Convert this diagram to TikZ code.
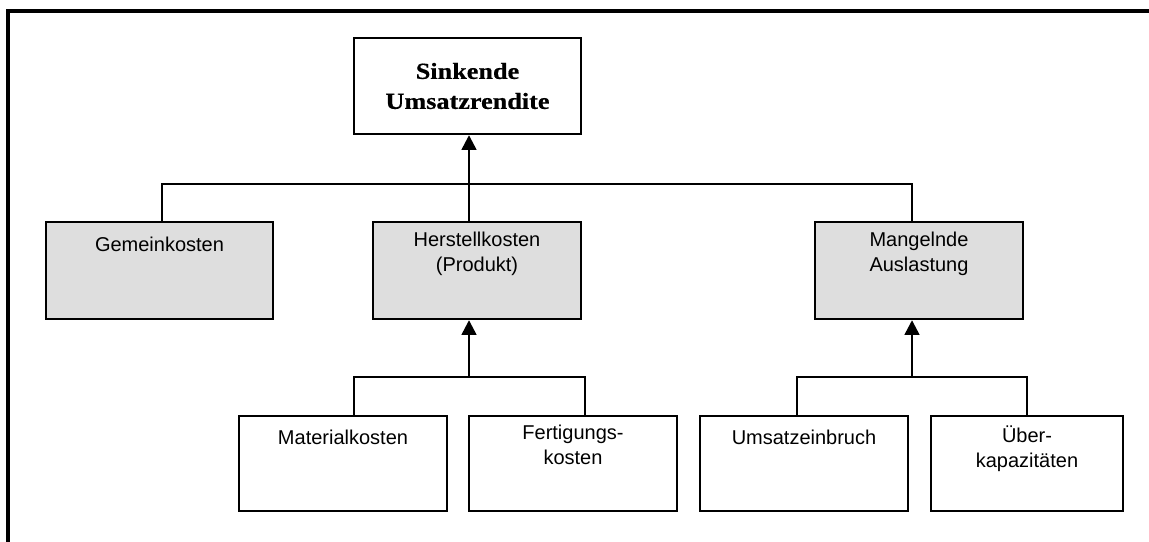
\documentclass[tikz,border=0pt]{standalone}
\usepackage{fontspec}
\setmainfont{Liberation Sans}
\newfontfamily\titlefont[FakeStretch=1.14, FakeBold=0.6]{Liberation Serif Bold}
\usetikzlibrary{arrows.meta}
\definecolor{boxgray}{RGB}{222,222,222}
\begin{document}
\begin{tikzpicture}[x=0.75pt,y=-0.75pt,
  box/.style={draw=black, line width=1.8pt, inner sep=0pt},
  causebox/.style={box, fill=boxgray},
  boxtext/.style={anchor=north, inner sep=0pt, align=center,
    font=\fontsize{15}{18.75}\selectfont,
    execute at begin node={\rule{0pt}{14pt}}},
  conn/.style={line width=1.8pt},
  uparrow/.style={conn, -{Triangle[length=11pt,width=11pt]}},
  frameline/.style={line width=2.3pt}]
\useasboundingbox (0,0) rectangle (1149,542);

% outer frame (left and top edges)
\draw[frameline] (8,542) -- (8,11) -- (1149,11);

% goal
\node[box, minimum width=170.25pt, minimum height=72pt, align=center,
  font=\titlefont\fontsize{17.25}{22.5}\selectfont]
  (goal) at (467.5,86) {Sinkende\\Umsatzrendite};

% first level causes
\node[causebox, minimum width=170.25pt, minimum height=72.75pt] (gk) at (159.5,270.5) {};
\node[causebox, minimum width=156pt, minimum height=72.75pt] (hk) at (477,270.5) {};
\node[causebox, minimum width=156pt, minimum height=72.75pt] (ma) at (919,270.5) {};

\node[boxtext] (gkt) at ([yshift=-8.5pt]gk.north) {Gemeinkosten};
\node[boxtext] (hkt) at ([yshift=-8.5pt]hk.north) {Herstellkosten\\(Produkt)};
\node[boxtext] (mat) at ([yshift=-8.5pt]ma.north) {Mangelnde\\Auslastung};

% second level causes
\node[box, minimum width=156pt, minimum height=71.25pt] (mk) at (343,463.5) {};
\node[box, minimum width=156pt, minimum height=71.25pt] (fk) at (573,463.5) {};
\node[box, minimum width=156pt, minimum height=71.25pt] (ue) at (804,463.5) {};
\node[box, minimum width=144pt, minimum height=71.25pt] (uk) at (1027,463.5) {};

\node[boxtext] (mkt) at ([yshift=-7.75pt]mk.north) {Materialkosten};
\node[boxtext] (fkt) at ([yshift=-7.75pt]fk.north) {Fertigungs-\\kosten};
\node[boxtext] (uet) at ([yshift=-7.75pt]ue.north) {Umsatzeinbruch};
\node[boxtext] (ukt) at ([yshift=-7.75pt]uk.north) {Über-\\kapazitäten};

% junction points of the connector trees
\coordinate (busA) at (469,184);
\coordinate (busB) at (469,377);
\coordinate (busC) at (912,377);

% first level to goal
\draw[conn] ([xshift=1.9pt]gk.north) |- (busA);
\draw[conn] ([xshift=-5.25pt]ma.north) |- (busA);
\draw[conn] ([xshift=-6pt]hk.north) -- (busA);
\draw[uparrow] (busA) -- (busA |- goal.south);

% second level to first level
\draw[conn] ([xshift=8.25pt]mk.north) |- (busB);
\draw[conn] ([xshift=9pt]fk.north) |- (busB);
\draw[uparrow] (busB) -- (busB |- hk.south);

\draw[conn] ([xshift=-5.25pt]ue.north) |- (busC);
\draw[conn] (uk.north) |- (busC);
\draw[uparrow] (busC) -- (busC |- ma.south);
\end{tikzpicture}
\end{document}
